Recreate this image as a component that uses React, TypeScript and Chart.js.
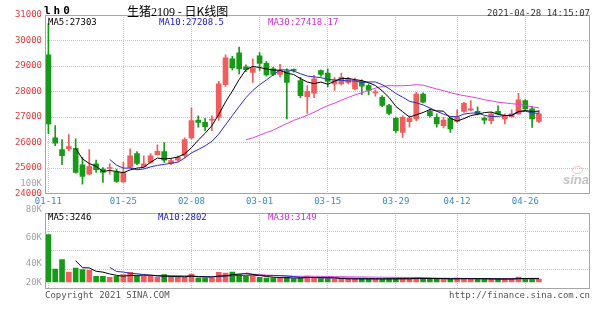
import React, { useEffect, useRef } from 'react';
import { Chart, registerables } from 'chart.js';

Chart.register(...registerables);

// ---------------- data ----------------
const dates: string[] = [
  '01-08', '01-11', '01-12', '01-13', '01-14', '01-15', '01-18', '01-19', '01-20', '01-21', '01-22',
  '01-25', '01-26', '01-27', '01-28', '01-29',
  '02-01', '02-02', '02-03', '02-04', '02-05', '02-08', '02-09', '02-10', '02-18', '02-19',
  '02-22', '02-23', '02-24', '02-25', '02-26',
  '03-01', '03-02', '03-03', '03-04', '03-05', '03-08', '03-09', '03-10', '03-11', '03-12',
  '03-15', '03-16', '03-17', '03-18', '03-19', '03-22', '03-23', '03-24', '03-25', '03-26',
  '03-29', '03-30', '03-31', '04-01', '04-02', '04-06', '04-07', '04-08', '04-09',
  '04-12', '04-13', '04-14', '04-15', '04-16', '04-19', '04-20', '04-21', '04-22', '04-23',
  '04-26', '04-27', '04-28',
];

const opens: number[] = [
  29440, 26180, 25720, 25750, 25770, 25120, 24760, 25160, 24960, 24980,
  24830, 24450, 25020, 25570, 25050, 25220, 25520, 25640, 25180, 25310,
  25480, 26180, 26880, 26790, 26880, 26990, 28270, 29280, 29520, 28970,
  28750, 29400, 29100, 28890, 28670, 28800, 28870, 28430, 27800, 27930,
  28820, 28720, 28300, 28300, 28360, 28100, 28390, 28230, 27940, 27770,
  27450, 26950, 26400, 26820, 26920, 27900, 27220, 26990, 26660, 26960,
  26830, 27220, 27270, 27220, 26960, 26860, 27220, 26920, 27010, 27120,
  27640, 27320, 26830,
];
const closes: number[] = [
  26730, 25970, 25480, 25840, 24830, 24670, 25060, 24930, 24830, 25020,
  24470, 24830, 25480, 25180, 25160, 25480, 25650, 25310, 25290, 25420,
  26110, 26860, 26790, 26620, 26920, 28300, 29320, 28920, 28890, 28860,
  28930, 29100, 28650, 28670, 28820, 28360, 28830, 27840, 28010, 28500,
  28670, 28400, 28430, 28560, 28500, 28430, 28210, 28040, 27990, 27450,
  27140, 26460, 26990, 26950, 27900, 27580, 27050, 26730, 26880, 26530,
  27010, 27540, 27320, 27120, 26880, 27120, 27120, 27050, 27120, 27670,
  27320, 26920, 27120,
];
const highs: number[] = [
  30660, 26660, 26110, 26310, 26140, 25420, 25720, 25310, 25020, 25160,
  24960, 25220, 25750, 25640, 25480, 25570, 25910, 26000, 25350, 25480,
  26180, 27360, 27050, 26950, 27050, 28400, 29440, 29380, 29740, 29050,
  29280, 29530, 29180, 28950, 29070, 28890, 28890, 28560, 28230, 28630,
  28850, 28890, 28560, 28720, 28560, 28530, 28460, 28300, 28070, 27840,
  27500, 27000, 27050, 27050, 27970, 27950, 27320, 27120, 26990, 27010,
  27280, 27580, 27640, 27400, 27010, 27180, 27440, 27120, 27280, 27930,
  27680, 27410, 27250,
];
const lows: number[] = [
  26350, 25880, 25130, 25680, 24800, 24370, 24740, 24830, 24430, 24760,
  24430, 24430, 25000, 25130, 25030, 25180, 25500, 25220, 25130, 25260,
  25400, 26130, 26600, 26460, 26460, 26870, 28200, 28850, 28690, 28780,
  28360, 28830, 28600, 28620, 28560, 26920, 28760, 27760, 27140, 27760,
  28600, 28180, 28040, 28250, 28300, 28060, 27880, 27880, 27820, 27410,
  27080, 26400, 26200, 26600, 26860, 27550, 26990, 26600, 26570, 26400,
  26790, 27180, 27250, 27080, 26730, 26730, 27100, 26730, 26990, 27100,
  27280, 26590, 26780,
];
const volumes: number[] = [
  47300, 13000, 22300, 10000, 14000, 12300, 11700, 5700, 5700, 4700,
  5700, 7300, 9700, 5700, 5700, 5700, 4700, 7300, 4700, 4700,
  4700, 8000, 4000, 4000, 4000, 9700, 9000, 10000, 7300, 5700,
  5700, 4700, 4000, 4000, 4000, 4700, 3500, 4000, 6000, 4500,
  3500, 3500, 3000, 3000, 3000, 3000, 3500, 3000, 3000, 3000,
  3500, 3500, 3500, 3000, 4700, 3500, 3000, 3000, 3000, 3000,
  4000, 3500, 3000, 3000, 3000, 3000, 3000, 3000, 3000, 5000,
  3500, 3500, 3000,
];

const xTickLabels: string[] = ['01-11', '01-25', '02-08', '03-01', '03-15', '03-29', '04-12', '04-26'];
const xTickIndex: number[] = [0, 11, 21, 31, 41, 51, 60, 70];
const priceMin = 24000;
const priceMax = 31000;
const priceStep = 1000;
const volTickLabels: string[] = ['100K', '80K', '60K', '40K', '20K'];

const priceLegend = { ma5: 'MA5:27303', ma10: 'MA10:27208.5', ma30: 'MA30:27418.17' };
const volLegend = { ma5: 'MA5:3246', ma10: 'MA10:2802', ma30: 'MA30:3149' };
const titleCode = 'lh0';
const titleName = '生猪';
const titleNum = '2109';
const titleRest = ' - 日K线图';
const timestamp = '2021-04-28 14:15:07';

// ---------------- layout / style ----------------
const FONT = "'DejaVu Sans Mono', monospace";
const RED = '#ef5e5e';
const GREEN = '#179a17';
const BLUE = '#2a2ad0';
const MAG = '#e040e0';
const GRID = '#c6c6c6';
const FRAME = '#a6a6a6';
const EMPTY_SLOTS = 7;
const volLabelY: number[] = [182.5, 209, 237, 263, 282];

function movingAvg(src: number[], n: number): (number | null)[] {
  return src.map((_, i) => {
    if (i < n - 1) return null;
    let s = 0;
    for (let k = i - n + 1; k <= i; k++) s += src[k];
    return s / n;
  });
}

const framePlugin = {
  id: 'frame',
  afterDraw(chart: any) {
    const { ctx, chartArea: a } = chart;
    ctx.save();
    ctx.strokeStyle = FRAME;
    ctx.lineWidth = 1;
    const l = Math.round(a.left) + 0.5;
    const t = Math.round(a.top) + 0.5;
    const r = Math.round(a.right) - 0.5;
    const b = Math.round(a.bottom) - 0.5;
    ctx.strokeRect(l, t, r - l, b - t);
    ctx.restore();
  },
};

export default function App() {
  const mainRef = useRef<HTMLCanvasElement>(null);
  const volRef = useRef<HTMLCanvasElement>(null);

  useEffect(() => {
    const labels = [...dates, ...Array(EMPTY_SLOTS).fill('')];
    const colors = closes.map((c, i) => (c >= opens[i] ? RED : GREEN));
    const xScale = (showLabels: boolean, h: number) => ({
      type: 'category' as const,
      offset: true,
      grid: { offset: false, color: GRID, drawTicks: false, lineWidth: 1 },
      border: { display: false, dash: [1, 1] },
      ticks: {
        display: showLabels,
        autoSkip: false,
        maxRotation: 0,
        minRotation: 0,
        padding: 3,
        color: '#3a8cc2',
        font: { family: FONT, size: 9 },
        callback: (_v: any, i: number) => xTickLabels[i],
      },
      afterBuildTicks: (s: any) => {
        s.ticks = xTickIndex.map((v) => ({ value: v }));
      },
      afterFit: (s: any) => {
        s.height = h;
      },
    });

    const main = new Chart(mainRef.current!, {
      type: 'bar',
      data: {
        labels,
        datasets: [
          { type: 'line', data: movingAvg(closes, 5), borderColor: '#000', borderWidth: 1, pointRadius: 0, order: 0 } as any,
          { type: 'line', data: movingAvg(closes, 10), borderColor: BLUE, borderWidth: 1, pointRadius: 0, order: 0 } as any,
          { type: 'line', data: movingAvg(closes, 30), borderColor: MAG, borderWidth: 1, pointRadius: 0, order: 0 } as any,
          {
            type: 'bar',
            data: opens.map((o, i) => [o, closes[i]]),
            backgroundColor: colors,
            barThickness: 5,
            grouped: false,
            minBarLength: 1,
            borderWidth: 0,
            order: 1,
          } as any,
          {
            type: 'bar',
            data: lows.map((l, i) => [l, highs[i]]),
            backgroundColor: colors,
            barThickness: 1,
            grouped: false,
            borderWidth: 0,
            order: 2,
          } as any,
        ],
      },
      options: {
        responsive: false,
        maintainAspectRatio: false,
        animation: false,
        layout: { padding: { top: 15, right: 10, left: 0, bottom: 0 } },
        plugins: { legend: { display: false }, tooltip: { enabled: false } },
        scales: {
          x: xScale(true, 16.5) as any,
          y: {
            min: priceMin,
            max: priceMax,
            grid: { color: GRID, drawTicks: false },
            border: { display: false, dash: [1, 1] },
            ticks: {
              stepSize: priceStep,
              padding: 3,
              color: '#e03a3a',
              font: { family: FONT, size: 9 },
              callback: (v: any) => String(v),
            },
            afterFit: (s: any) => {
              s.width = 45;
            },
          },
        },
      },
      plugins: [framePlugin],
    });

    const volMin = -6500;
    const volMax = 69000;
    const vol = new Chart(volRef.current!, {
      type: 'bar',
      data: {
        labels,
        datasets: [
          { type: 'line', data: movingAvg(volumes, 5), borderColor: '#000', borderWidth: 1, pointRadius: 0, order: 0 } as any,
          { type: 'line', data: movingAvg(volumes, 10), borderColor: BLUE, borderWidth: 1, pointRadius: 0, order: 0 } as any,
          { type: 'line', data: movingAvg(volumes, 30), borderColor: MAG, borderWidth: 1, pointRadius: 0, order: 0 } as any,
          {
            type: 'bar',
            data: volumes,
            backgroundColor: colors,
            barThickness: 5,
            grouped: false,
            borderWidth: 0,
            order: 1,
          } as any,
        ],
      },
      options: {
        responsive: false,
        maintainAspectRatio: false,
        animation: false,
        layout: { padding: { top: 8, right: 10, left: 0, bottom: 6.5 } },
        plugins: { legend: { display: false }, tooltip: { enabled: false } },
        scales: {
          x: xScale(false, 0) as any,
          y: {
            min: volMin,
            max: volMax,
            grid: { color: GRID, drawTicks: false },
            border: { display: false, dash: [1, 1] },
            ticks: { display: false },
            afterBuildTicks: (s: any) => {
              const step = (volMax - volMin) / 4;
              s.ticks = [0, 1, 2, 3, 4].map((k) => ({ value: volMin + k * step }));
            },
            afterFit: (s: any) => {
              s.width = 45;
            },
          },
        },
      },
      plugins: [framePlugin],
    });

    return () => {
      main.destroy();
      vol.destroy();
    };
  }, []);

  const mono: React.CSSProperties = {
    position: 'absolute',
    fontFamily: FONT,
    fontSize: 9,
    lineHeight: '10px',
    whiteSpace: 'pre',
  };

  return (
    <div style={{ position: 'fixed', left: 0, top: 0, width: 600, height: 327, background: '#fff', overflow: 'hidden' }}>
      <canvas ref={mainRef} width={600} height={210} style={{ position: 'absolute', left: 0, top: 0 }} />
      <canvas ref={volRef} width={600} height={90} style={{ position: 'absolute', left: 0, top: 205 }} />

      {/* header */}
      <div style={{ ...mono, left: 44, top: 6, fontSize: 11, fontWeight: 'bold', letterSpacing: 3, color: '#000' }}>{titleCode}</div>
      <div
        style={{
          position: 'absolute',
          left: 127,
          top: 4,
          fontSize: 12,
          lineHeight: '14px',
          whiteSpace: 'pre',
          color: '#000',
          fontFamily: "'Noto Sans CJK SC', sans-serif",
        }}
      >
        {titleName}
        <span style={{ fontFamily: "'Liberation Serif', serif" }}>{titleNum}</span>
        {titleRest}
      </div>
      <div style={{ ...mono, right: 10, top: 7.5, color: '#333' }}>{timestamp}</div>

      {/* price legend */}
      <div style={{ ...mono, left: 48, top: 17, color: '#000' }}>{priceLegend.ma5}</div>
      <div style={{ ...mono, left: 159, top: 17, color: '#2020c0' }}>{priceLegend.ma10}</div>
      <div style={{ ...mono, left: 268, top: 17, color: '#d030d0' }}>{priceLegend.ma30}</div>

      {/* volume legend */}
      <div style={{ ...mono, left: 48, top: 212, color: '#000' }}>{volLegend.ma5}</div>
      <div style={{ ...mono, left: 158, top: 212, color: '#2020c0' }}>{volLegend.ma10}</div>
      <div style={{ ...mono, left: 268, top: 212, color: '#d030d0' }}>{volLegend.ma30}</div>

      {/* volume axis labels */}
      {volTickLabels.map((t, i) => (
        <div key={t} style={{ ...mono, left: 0, width: 42, textAlign: 'right', top: volLabelY[i] - 5, color: '#a4a4a4' }}>
          {t}
        </div>
      ))}

      {/* watermark */}
      <div
        style={{
          position: 'absolute',
          left: 572,
          top: 166,
          width: 9,
          height: 6,
          borderRadius: '50%',
          border: '1.5px solid rgba(235,140,150,0.55)',
        }}
      />
      <div
        style={{
          position: 'absolute',
          left: 563,
          top: 173,
          fontFamily: "'Liberation Sans', sans-serif",
          fontStyle: 'italic',
          fontWeight: 'bold',
          fontSize: 13,
          lineHeight: '14px',
          color: 'rgba(170,170,170,0.7)',
        }}
      >
        sina
      </div>

      {/* footer */}
      <div style={{ ...mono, left: 45, top: 289.5, color: '#555' }}>Copyright 2021 SINA.COM</div>
      <div style={{ ...mono, right: 10, top: 289.5, color: '#555' }}>http://finance.sina.com.cn</div>
    </div>
  );
}
